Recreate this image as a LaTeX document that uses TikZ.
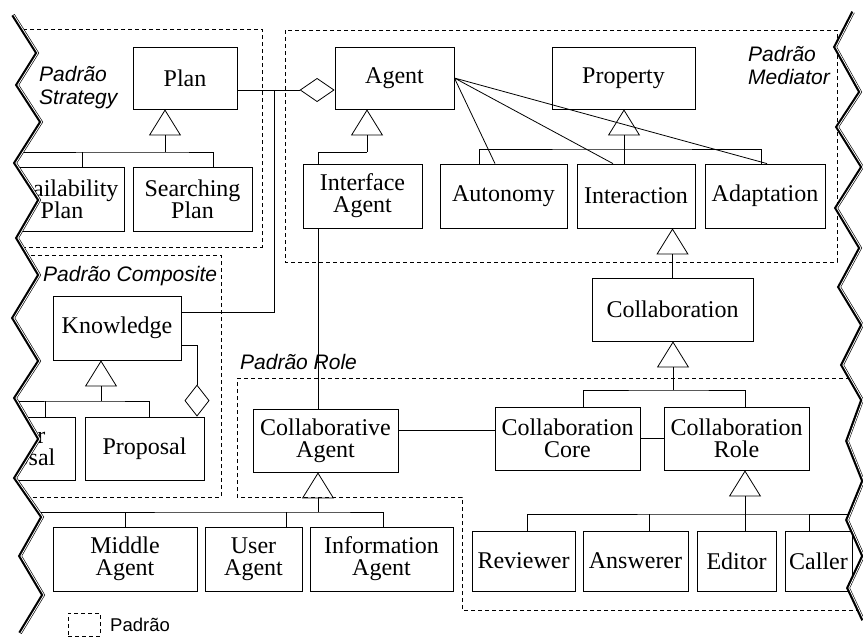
\documentclass[tikz,border=0pt]{standalone}
\usepackage{fontspec}
\setmainfont{Liberation Serif}
\setsansfont{Liberation Sans}
\usetikzlibrary{arrows.meta,calc}

% break lines on both sides
\def\leftzz{(13,15) -- (37,53) -- (17,85) -- (41,122) -- (15,163) -- (39,200) -- (17,238) -- (39,275) -- (13,318) -- (39,361) -- (15,398) -- (39,439) -- (15,478) -- (42,517) -- (20,556) -- (43,595) -- (20,633)}
\def\rightzz{(853,12) -- (835,47) -- (860,92) -- (837,127) -- (862,167) -- (836,208) -- (860,248) -- (839,287) -- (862,325) -- (842,365) -- (862,400) -- (847,441) -- (863,481) -- (847,520) -- (863,556) -- (848,588) -- (863,620)}

\begin{document}
\begin{tikzpicture}[x=1pt,y=-1pt,
  cls/.style 2 args={draw,fill=white,line width=.8pt,inner sep=0pt,align=center,
    minimum width=#1pt,minimum height=#2pt,font=\fontsize{24}{22}\selectfont},
  padrao/.style={draw,line width=.7pt,dash pattern=on 4pt off 3pt},
  lbl/.style={inner sep=0pt,align=left,anchor=north west,font=\sffamily\itshape\fontsize{21}{23}\selectfont},
  assoc/.style={line width=.8pt},
  gen/.style={assoc,-{Triangle[open,length=26pt,width=32pt]}},
  agg/.style={assoc,-{Diamond[open,length=35pt,width=24pt]}},
  zz/.style={line width=3.6pt,line join=miter}]
\useasboundingbox (0,0) rectangle (863,638);

% patterns
\draw[padrao] (-5,29) rectangle (262,247);
\draw[padrao] (285,30) rectangle (837,262);
\draw[padrao] (-5,255) rectangle (221,497);
\draw[padrao] (237,378) -- (870,378) -- (870,610) -- (462,610) -- (462,497) -- (237,497) -- cycle;
\node[lbl] (lstrat) at (39,66) {Padrão\\Strategy};
\node[lbl] (lmed) at (748,46) {Padrão\\Mediator};
\node[lbl] (lcomp) at (43,266) {Padrão Composite};
\node[lbl] (lrole) at (240,354) {Padrão Role};

% classes
\node[cls={104}{62}] (plan) at (185,78) {Plan};
\node[cls={124}{64}] (avail) at (62,199) {\phantom{Av}ailability\\Plan};
\node[cls={119}{64}] (searching) at (192.5,199) {Searching\\Plan};
\node[cls={119}{62}] (agent) at (394.5,78) {Agent};
\node[cls={119}{64}] (iface) at (362.5,196) {Interface\\Agent};
\node[cls={127}{64}] (autonomy) at (503.5,196) {Autonomy};
\node[cls={143}{62}] (property) at (623.5,78) {Property};
\node[cls={118}{64}] (interaction) at (636,196) {Interaction};
\node[cls={120}{64}] (adaptation) at (765,196) {Adaptation};
\node[cls={161}{63}] (collab) at (672.5,309.5) {Collaboration};
\node[cls={128}{64}] (knowledge) at (117,328) {Knowledge};
\node[cls={78}{63}] (counter) at (36,448.5) {er\\osal};
\node[cls={119}{63}] (proposal) at (144.5,448.5) {Proposal};
\node[cls={145}{63}] (cagent) at (325.5,440.5) {Collaborative\\Agent};
\node[cls={145}{63}] (core) at (567.5,438.5) {Collaboration\\Core};
\node[cls={145}{63}] (role) at (736.5,438.5) {Collaboration\\Role};
\node[cls={144}{64}] (middle) at (125,559) {Middle\\Agent};
\node[cls={97}{64}] (user) at (253.5,559) {User\\Agent};
\node[cls={143}{64}] (info) at (381.5,559) {Information\\Agent};
\node[cls={103}{60}] (reviewer) at (523.5,561) {Reviewer};
\node[cls={105}{60}] (answerer) at (635.5,561) {Answerer};
\node[cls={79}{60}] (editor) at (736.5,561) {Editor};
\node[cls={67}{60}] (caller) at (818.5,561) {Caller};

% junctions
\coordinate (aw) at ($(agent.west)+(0,12)$);
\coordinate (ix) at (318,0);
\coordinate (cy) at (0,430);
\coordinate (sbar) at (165,152);
\coordinate (abar) at (367,152);
\coordinate (pbar) at (624,149);
\coordinate (kbar) at (101,401);
\coordinate (cbar) at (673,390);
\coordinate (gbar) at (318,512);
\coordinate (rbar) at (745,514);

% aggregation
\draw[agg] (plan.east |- aw) -- (aw);
\draw[assoc] ($(knowledge.east)+(0,-16)$) -| ($(aw)+(-60,0)$);
\draw[assoc,-{Diamond[open,length=32pt,width=25pt]}] ($(knowledge.east)+(0,17)$) -| ($(proposal.north)+(52.5,0)$);

% association
\draw[assoc] (agent.east) -- ($(autonomy.north)+(-8.5,0)$)
             (agent.east) -- ($(interaction.north)+(-23,0)$)
             (agent.east) -- ($(adaptation.north)+(2,0)$);
\draw[assoc] (iface.south -| ix) -- (cagent.north -| ix);
\draw[assoc] (cagent.east |- cy) -- (core.west |- cy);
\draw[assoc] (core.east) -- (role.west);

% generalization
\draw[gen] (sbar) -- (plan.south -| sbar);
\draw[assoc] ($(searching.north)+(20.5,0)$) |- (sbar) -- ++(-180,0);
\draw[assoc] ($(avail.north)+(20,0)$) -- ++(0,-15);

\draw[gen] (abar) -- (agent.south -| abar);
\draw[assoc] (iface.north -| ix) |- (abar);

\draw[gen] (pbar) -- (property.south -| pbar);
\draw[assoc] ($(autonomy.north)+(-24.5,0)$) |- (pbar) -| ($(adaptation.north)+(-4,0)$);
\draw[assoc] (pbar) -- (interaction.north -| pbar);

\draw[gen] (collab.north) -- (collab.north |- interaction.south);

\draw[gen] (kbar) -- (knowledge.south -| kbar);
\draw[assoc] ($(proposal.north)+(4.5,0)$) |- (kbar) -- ++(-115,0);
\draw[assoc] ($(counter.north)+(9,0)$) -- ++(0,-16);

\draw[gen] (cbar) -- (collab.south -| cbar);
\draw[assoc] ($(core.north)+(15.5,0)$) |- (cbar) -| ($(role.north)+(8.5,0)$);

\draw[gen] (gbar) -- (cagent.south -| gbar);
\draw[assoc] ($(info.north)+(1.5,0)$) |- (gbar) -- ++(-330,0);
\draw[assoc] (middle.north) -- ++(0,-15);
\draw[assoc] ($(user.north)+(32.5,0)$) -- ++(0,-15);

\draw[gen] (rbar) -- (role.south -| rbar);
\draw[assoc] ($(reviewer.north)+(3.5,0)$) |- (rbar) -- ++(130,0);
\draw[assoc] ($(answerer.north)+(13.5,0)$) -- ++(0,-17);
\draw[assoc] (rbar) -- (editor.north -| rbar);
\draw[assoc] ($(caller.north)+(-9.5,0)$) -- ++(0,-17);

% cut edges
\fill[white] \leftzz -- (-10,648) -- (-10,-10) -- cycle;
\fill[white] \rightzz -- (873,648) -- (873,-10) -- cycle;
\draw[zz] \leftzz;
\draw[white,line width=.8pt,xshift=.9pt] \leftzz;
\draw[zz] \rightzz;
\draw[white,line width=.8pt,xshift=.9pt] \rightzz;

% legend
\node[padrao,inner sep=0pt,minimum width=32pt,minimum height=23pt] (legbox) at (84,624.5) {};
\node[anchor=west,inner sep=0pt,font=\sffamily\fontsize{18.5}{20}\selectfont] (legtext) at (110,625) {Padrão};
\end{tikzpicture}
\end{document}
